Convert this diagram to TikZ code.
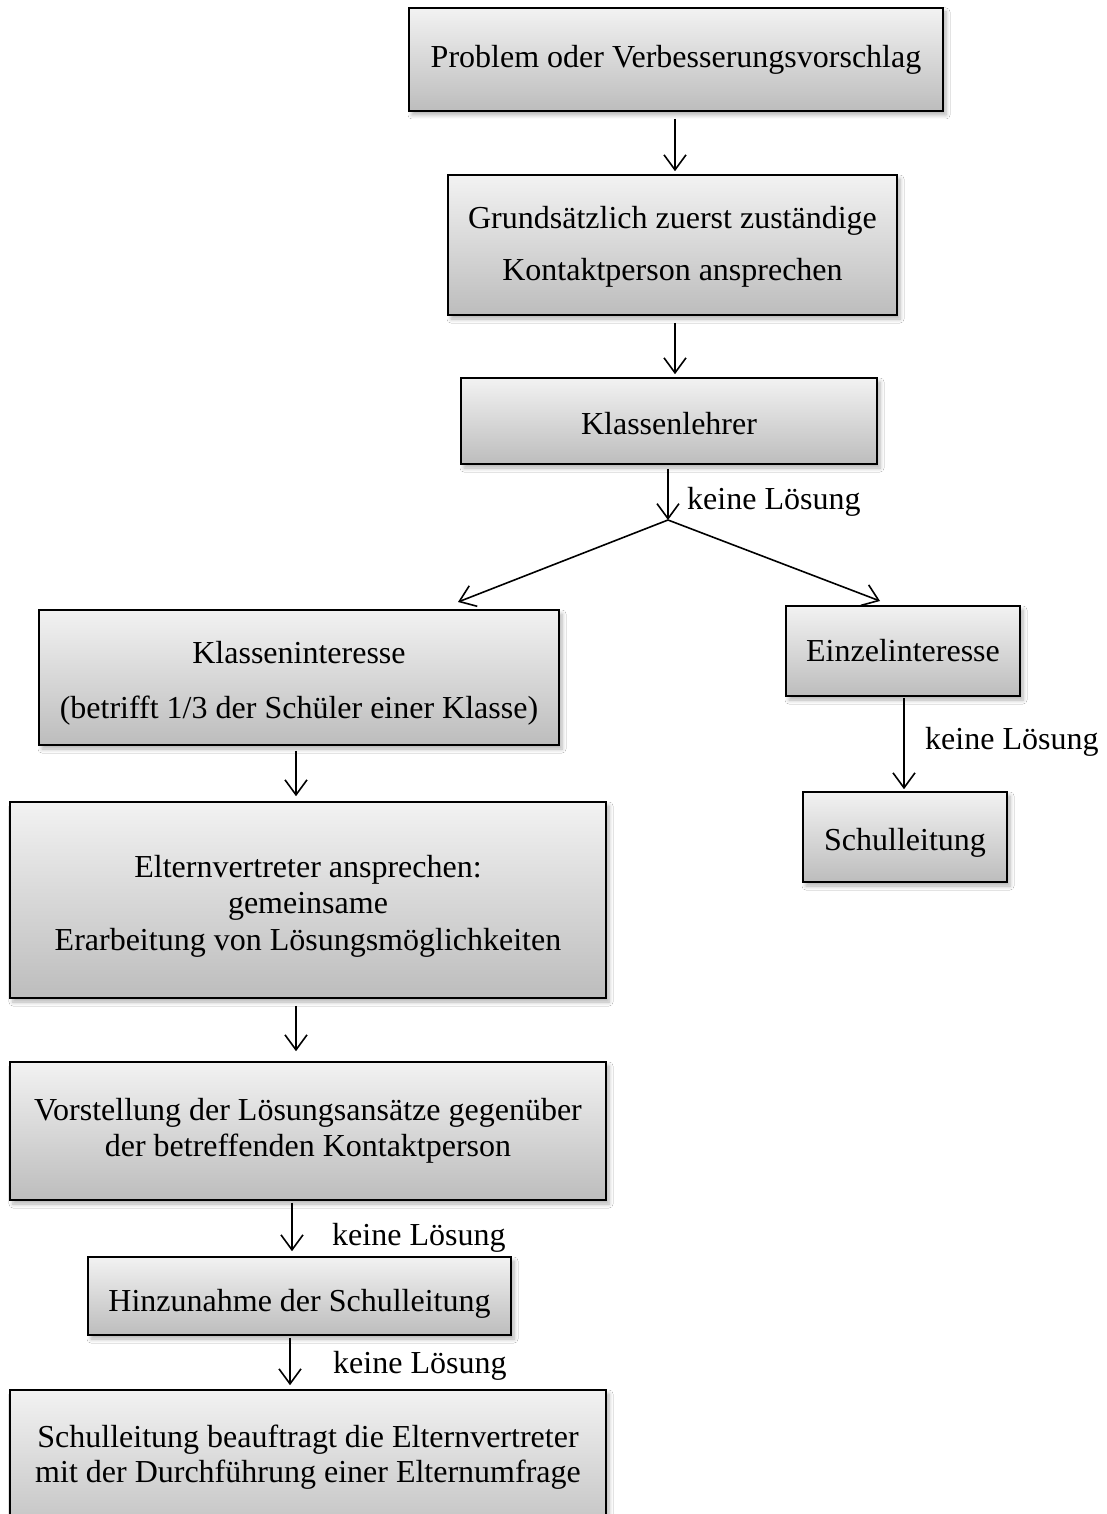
\documentclass[tikz,border=0pt]{standalone}
\usepackage{fontspec}
\setmainfont{Liberation Serif}
\usetikzlibrary{arrows.meta,shadows.blur,calc}
\newcommand\dn[1]{\rule{0pt}{\dimexpr 22pt + #1*2\relax}}
\begin{document}
\begin{tikzpicture}[x=1pt,y=-1pt,
  box/.style={draw=black, line width=1.6pt, top color=black!5, bottom color=black!26,
    blur shadow={shadow xshift=3pt, shadow yshift=-4pt, shadow opacity=30, shadow blur radius=4pt, shadow blur steps=6},
    align=center, inner sep=0pt, font=\fontsize{32}{36.5}\selectfont},
  txt/.style={align=center, inner sep=0pt, font=\fontsize{32}{36.5}\selectfont},
  lbl/.style={anchor=west, inner sep=0pt, font=\fontsize{32}{36.5}\selectfont},
  arr/.style={line width=1.6pt, -{Straight Barb[length=15pt,width=22pt,line width=1.6pt]}},
]
\useasboundingbox (0,0) rectangle (1107,1514);
\clip (0,0) rectangle (1107,1514);
\fill[white] (0,0) rectangle (1107,1514);

\node[box, minimum width=534pt, minimum height=103pt] (prob) at (676,59.5) {Problem oder Verbesserungsvorschlag};
\node[box, minimum width=449pt, minimum height=140pt] (grund) at (672.5,245) {\dn{1.5pt}Grundsätzlich zuerst zuständige\\[15.5pt]Kontaktperson ansprechen};
\node[box, minimum width=416pt, minimum height=86pt] (klehrer) at (669,421) {\dn{3pt}Klassenlehrer};
\node[box, minimum width=520pt, minimum height=135pt] (kint) at (299,677.5) {\dn{5.5pt}Klasseninteresse\\[18.5pt](betrifft 1/3 der Schüler einer Klasse)};
\node[box, minimum width=234pt, minimum height=90pt] (einz) at (903,651) {Einzelinteresse};
\node[box, minimum width=204pt, minimum height=90pt] (schul) at (905,837) {\dn{5.5pt}Schulleitung};
\node[box, minimum width=596pt, minimum height=196pt] (eltern) at (308,900) {\dn{6pt}Elternvertreter ansprechen:\\gemeinsame\\Erarbeitung von Lösungsmöglichkeiten};
\node[box, minimum width=596pt, minimum height=138pt] (vorst) at (308,1131) {Vorstellung der Lösungsansätze gegenüber\\[-1pt]der betreffenden Kontaktperson};
\node[box, minimum width=423pt, minimum height=78pt] (hinzu) at (299.5,1296) {\dn{8pt}Hinzunahme der Schulleitung};
\node[box, minimum width=596pt, minimum height=160pt] (beauf) at (308,1470) {};
\node[txt] (beaufT) at (308,1457) {Schulleitung beauftragt die Elternvertreter\\[-1pt]mit der Durchführung einer Elternumfrage};

\coordinate (split) at (668,520);
\coordinate (kintA) at (458,602);
\coordinate (einzA) at (880,601);

\draw[arr, shorten <=7pt, shorten >=3pt] (prob.south -| 675,0) -- (grund.north -| 675,0);
\draw[arr, shorten <=7pt, shorten >=3pt] (grund.south -| 675,0) -- (klehrer.north -| 675,0);
\draw[arr, shorten <=4pt] (klehrer.south -| split) -- (split);
\draw[arr] (split) -- (kintA);
\draw[arr] (split) -- (einzA);
\draw[arr, shorten <=5pt, shorten >=5pt] (kint.south -| 296,0) -- (eltern.north -| 296,0);
\draw[arr, shorten <=1pt, shorten >=2pt] (einz.south -| 904,0) -- (schul.north -| 904,0);
\draw[arr, shorten <=7pt, shorten >=10pt] (eltern.south -| 296,0) -- (vorst.north -| 296,0);
\draw[arr, shorten <=2pt, shorten >=5pt] (vorst.south -| 292,0) -- (hinzu.north -| 292,0);
\draw[arr, shorten <=2pt, shorten >=4pt] (hinzu.south -| 290,0) -- (beauf.north -| 290,0);

\node[lbl] (l1) at (687,502) {keine Lösung};
\node[lbl] (l2) at (925,742) {keine Lösung};
\node[lbl] (l3) at (332,1238) {keine Lösung};
\node[lbl] (l4) at (333,1366) {keine Lösung};
\end{tikzpicture}
\end{document}
